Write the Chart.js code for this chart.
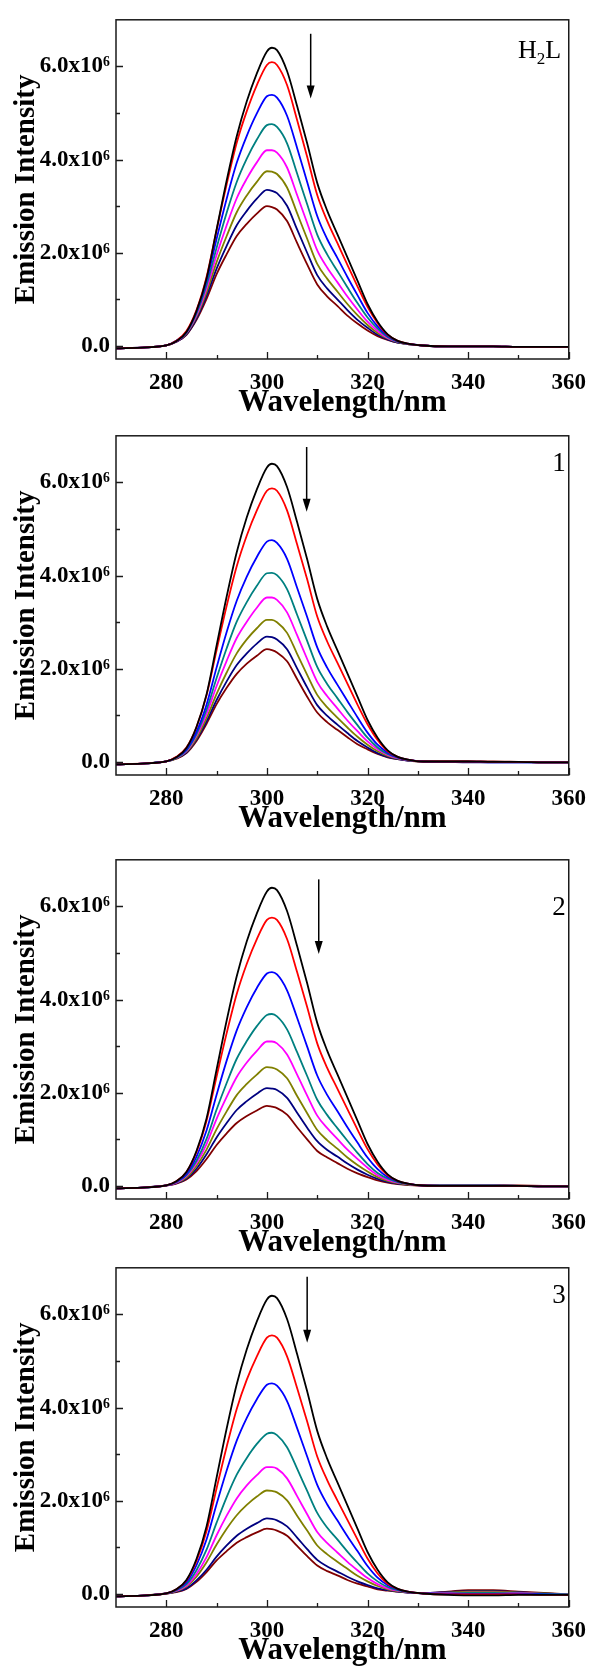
<!DOCTYPE html>
<html><head><meta charset="utf-8">
<script src="https://cdn.jsdelivr.net/npm/chart.js@4.4.1/dist/chart.umd.min.js"></script>
<style>
html,body{margin:0;padding:0;background:#fff;}
body{width:596px;height:1666px;position:relative;overflow:hidden;}
.panel{position:absolute;left:0;width:596px;height:418px;}
</style></head><body>
<div class="panel" style="top:0px"><canvas id="c0" width="596" height="418"></canvas></div>
<div class="panel" style="top:416px"><canvas id="c1" width="596" height="418"></canvas></div>
<div class="panel" style="top:840px"><canvas id="c2" width="596" height="418"></canvas></div>
<div class="panel" style="top:1248px"><canvas id="c3" width="596" height="418"></canvas></div>
<script>
// ---- shared axes ----
const wavelengths = [270,276,280,282,284,286,288,290,292,294,296,298,300,301,302,304,306,308,310,312,314,316,318,320,322,324,326,328,331,336,340,345,350,355,360];
const seriesColors = ['#000000','#ff0000','#0000ff','#008080','#ff00ff','#808000','#000080','#800000'];
const xTickValues = [280,300,320,340,360];
const xTickLabels = ['280','300','320','340','360'];
const xMinorTicks = [290,310,330,350];
const yTickValues = [0,2,4,6];
const yTickLabels = ['0.0','2.0x10\u2076','4.0x10\u2076','6.0x10\u2076'];
const yMinorTicks = [1,3,5];
const panelLabels = ['H2L','1','2','3'];
// arrow per panel: [wavelength, top value, tip value] (values in 10^6)
const arrowH2L = [308.7,6.70,5.31];
const arrow1 = [307.9,6.76,5.37];
const arrow2 = [310.3,6.58,4.98];
const arrow3 = [308.0,6.81,5.39];
// label baseline offset from plot top (px)
const labelDrop = [38,35,55,35];

// ---- panel H2L (values in 10^6) ----
const h2l_0 = [-0.05,-0.03,0.01,0.10,0.30,0.75,1.45,2.50,3.55,4.50,5.25,5.85,6.32,6.40,6.35,5.90,5.15,4.35,3.50,2.90,2.40,1.90,1.40,0.90,0.52,0.25,0.11,0.05,0.01,-0.01,-0.01,-0.01,-0.02,-0.02,-0.02];
const h2l_1 = [-0.05,-0.03,0.01,0.11,0.32,0.77,1.48,2.49,3.47,4.36,5.04,5.60,6.03,6.09,6.03,5.60,4.85,4.06,3.24,2.68,2.21,1.74,1.28,0.84,0.49,0.24,0.11,0.05,0.01,-0.01,-0.01,-0.01,-0.02,-0.02,-0.02];
const h2l_2 = [-0.05,-0.03,0.01,0.11,0.30,0.74,1.40,2.30,3.16,3.93,4.51,4.99,5.36,5.39,5.33,4.94,4.25,3.52,2.79,2.29,1.89,1.48,1.09,0.71,0.42,0.22,0.10,0.05,0.01,-0.01,-0.01,-0.01,-0.02,-0.02,-0.02];
const h2l_3 = [-0.05,-0.03,0.01,0.11,0.29,0.70,1.31,2.11,2.86,3.52,4.02,4.43,4.74,4.76,4.70,4.35,3.70,3.04,2.39,1.96,1.61,1.26,0.92,0.61,0.37,0.19,0.09,0.04,0.01,-0.01,-0.01,-0.01,-0.02,-0.02,-0.02];
const h2l_4 = [-0.05,-0.03,0.01,0.10,0.28,0.66,1.23,1.95,2.59,3.17,3.59,3.94,4.20,4.20,4.15,3.83,3.24,2.64,2.05,1.68,1.37,1.06,0.78,0.52,0.32,0.17,0.09,0.04,0.01,-0.01,-0.01,-0.01,-0.02,-0.02,-0.02];
const h2l_5 = [-0.05,-0.03,0.01,0.10,0.27,0.63,1.15,1.80,2.36,2.87,3.23,3.52,3.75,3.74,3.69,3.40,2.85,2.30,1.76,1.44,1.17,0.90,0.66,0.45,0.28,0.16,0.08,0.04,0.01,-0.01,-0.01,-0.01,-0.02,-0.02,-0.02];
const h2l_6 = [-0.05,-0.03,0.01,0.09,0.25,0.59,1.08,1.66,2.15,2.59,2.90,3.16,3.35,3.33,3.28,3.01,2.50,2.00,1.52,1.23,1.00,0.77,0.56,0.39,0.24,0.14,0.07,0.04,0.01,-0.01,-0.01,-0.01,-0.02,-0.02,-0.02];
const h2l_7 = [-0.05,-0.03,0.01,0.09,0.24,0.56,1.01,1.54,1.97,2.36,2.62,2.84,3.00,2.98,2.93,2.68,2.21,1.75,1.32,1.06,0.86,0.65,0.48,0.33,0.21,0.13,0.07,0.04,0.01,-0.01,-0.01,-0.01,-0.02,-0.02,-0.02];

// ---- panel 1 ----
const p1_0 = [-0.05,-0.03,0.01,0.10,0.30,0.75,1.45,2.50,3.55,4.50,5.25,5.85,6.32,6.40,6.35,5.90,5.15,4.35,3.50,2.90,2.40,1.90,1.40,0.90,0.52,0.25,0.11,0.05,0.01,0.01,0.01,0.00,0.00,-0.01,-0.01];
const p1_1 = [-0.05,-0.03,0.01,0.11,0.31,0.75,1.43,2.40,3.35,4.20,4.86,5.40,5.82,5.87,5.82,5.40,4.67,3.92,3.12,2.58,2.13,1.68,1.23,0.81,0.47,0.23,0.11,0.05,0.01,0.01,0.01,0.00,0.00,-0.01,-0.01];
const p1_2 = [-0.05,-0.03,0.01,0.10,0.27,0.65,1.23,2.03,2.79,3.46,3.98,4.40,4.73,4.76,4.70,4.36,3.74,3.11,2.46,2.02,1.66,1.31,0.96,0.63,0.37,0.20,0.10,0.05,0.01,0.00,0.00,-0.01,-0.01,-0.01,-0.01];
const p1_3 = [-0.05,-0.03,0.01,0.09,0.25,0.60,1.12,1.80,2.44,3.01,3.43,3.78,4.05,4.06,4.01,3.71,3.16,2.60,2.04,1.67,1.37,1.07,0.79,0.52,0.31,0.17,0.09,0.04,0.01,0.01,0.01,0.00,0.00,-0.01,-0.01];
const p1_4 = [-0.05,-0.03,0.01,0.09,0.23,0.56,1.03,1.63,2.17,2.66,3.01,3.31,3.53,3.53,3.48,3.21,2.72,2.21,1.72,1.41,1.15,0.89,0.66,0.44,0.27,0.15,0.08,0.04,0.01,0.01,0.01,0.00,0.00,-0.01,-0.01];
const p1_5 = [-0.05,-0.03,0.01,0.08,0.22,0.51,0.94,1.46,1.92,2.33,2.63,2.87,3.05,3.05,3.00,2.77,2.32,1.87,1.44,1.17,0.95,0.74,0.54,0.37,0.23,0.13,0.07,0.04,0.01,0.01,0.01,0.00,0.00,-0.01,-0.01];
const p1_6 = [-0.05,-0.03,0.01,0.08,0.20,0.48,0.87,1.33,1.73,2.08,2.33,2.54,2.69,2.68,2.63,2.42,2.01,1.60,1.22,0.99,0.80,0.62,0.45,0.31,0.19,0.11,0.06,0.03,0.01,0.00,-0.01,-0.01,-0.01,-0.01,-0.01];
const p1_7 = [-0.05,-0.03,0.01,0.07,0.19,0.45,0.82,1.24,1.59,1.89,2.11,2.28,2.42,2.40,2.35,2.16,1.78,1.40,1.06,0.85,0.69,0.53,0.38,0.27,0.17,0.10,0.06,0.03,0.01,0.01,0.01,0.01,0.00,-0.01,-0.01];

// ---- panel 2 ----
const p2_0 = [-0.05,-0.03,0.01,0.10,0.30,0.75,1.45,2.50,3.55,4.50,5.25,5.85,6.32,6.40,6.35,5.90,5.15,4.35,3.50,2.90,2.40,1.90,1.40,0.90,0.52,0.25,0.11,0.05,0.01,0.00,0.00,0.00,0.00,-0.01,-0.01];
const p2_1 = [-0.05,-0.03,0.01,0.10,0.30,0.73,1.40,2.35,3.28,4.12,4.77,5.30,5.71,5.76,5.71,5.30,4.59,3.84,3.06,2.53,2.09,1.65,1.21,0.79,0.46,0.23,0.11,0.05,0.01,0.00,0.00,0.00,0.00,-0.01,-0.01];
const p2_2 = [-0.05,-0.03,0.01,0.09,0.26,0.63,1.19,1.96,2.69,3.34,3.84,4.25,4.56,4.59,4.54,4.20,3.61,2.99,2.37,1.95,1.61,1.26,0.93,0.61,0.36,0.19,0.10,0.05,0.01,0.00,0.00,0.00,0.00,-0.01,-0.01];
const p2_3 = [-0.05,-0.03,0.01,0.08,0.23,0.54,1.01,1.64,2.21,2.73,3.11,3.43,3.67,3.69,3.64,3.36,2.87,2.36,1.85,1.52,1.24,0.97,0.71,0.47,0.28,0.16,0.08,0.04,0.01,0.01,0.01,0.01,0.00,-0.01,-0.01];
const p2_4 = [-0.05,-0.03,0.01,0.07,0.21,0.49,0.90,1.44,1.91,2.34,2.65,2.90,3.10,3.10,3.06,2.82,2.39,1.94,1.51,1.24,1.01,0.78,0.58,0.39,0.23,0.13,0.07,0.04,0.01,0.01,0.01,0.01,0.00,-0.01,-0.01];
const p2_5 = [-0.05,-0.03,0.01,0.07,0.18,0.43,0.78,1.22,1.60,1.95,2.19,2.39,2.55,2.54,2.50,2.31,1.93,1.56,1.20,0.98,0.80,0.61,0.45,0.31,0.19,0.11,0.06,0.03,0.01,0.01,0.01,0.01,0.00,-0.01,-0.01];
const p2_6 = [-0.05,-0.03,0.01,0.06,0.16,0.37,0.68,1.04,1.35,1.63,1.82,1.98,2.10,2.09,2.06,1.89,1.57,1.25,0.96,0.77,0.63,0.48,0.35,0.24,0.15,0.09,0.05,0.03,0.01,0.01,0.01,0.01,0.00,-0.01,-0.01];
const p2_7 = [-0.05,-0.03,0.01,0.05,0.14,0.32,0.58,0.88,1.13,1.35,1.50,1.62,1.72,1.70,1.67,1.53,1.26,1.00,0.75,0.61,0.49,0.37,0.27,0.19,0.12,0.07,0.04,0.02,0.01,0.02,0.02,0.02,0.01,0.00,-0.01];

// ---- panel 3 ----
const p3_0 = [-0.05,-0.03,0.01,0.10,0.30,0.75,1.45,2.50,3.55,4.50,5.25,5.85,6.32,6.40,6.35,5.90,5.15,4.35,3.50,2.90,2.40,1.90,1.40,0.90,0.52,0.25,0.11,0.05,0.01,-0.02,-0.03,-0.03,-0.02,-0.02,-0.02];
const p3_1 = [-0.05,-0.03,0.01,0.10,0.29,0.71,1.35,2.27,3.16,3.97,4.60,5.10,5.50,5.55,5.50,5.10,4.42,3.70,2.95,2.44,2.01,1.59,1.17,0.76,0.44,0.22,0.11,0.05,0.01,-0.01,-0.01,-0.01,-0.01,-0.02,-0.02];
const p3_2 = [-0.05,-0.03,0.01,0.09,0.25,0.62,1.17,1.93,2.65,3.29,3.78,4.18,4.49,4.52,4.47,4.14,3.56,2.95,2.34,1.92,1.58,1.24,0.92,0.60,0.35,0.19,0.10,0.05,0.01,0.00,0.00,0.00,0.00,-0.01,-0.02];
const p3_3 = [-0.05,-0.03,0.01,0.08,0.21,0.51,0.95,1.53,2.08,2.56,2.92,3.22,3.44,3.46,3.41,3.15,2.69,2.21,1.74,1.42,1.17,0.91,0.67,0.44,0.27,0.15,0.08,0.04,0.01,0.01,0.02,0.02,0.01,0.00,-0.01];
const p3_4 = [-0.05,-0.03,0.01,0.07,0.18,0.43,0.79,1.26,1.68,2.05,2.33,2.55,2.72,2.72,2.69,2.48,2.10,1.71,1.33,1.09,0.89,0.69,0.51,0.34,0.21,0.12,0.07,0.04,0.02,0.02,0.03,0.03,0.02,0.00,-0.01];
const p3_5 = [-0.05,-0.03,0.01,0.06,0.16,0.37,0.68,1.06,1.40,1.69,1.91,2.09,2.22,2.21,2.18,2.01,1.68,1.36,1.04,0.85,0.69,0.54,0.39,0.27,0.17,0.10,0.06,0.04,0.02,0.03,0.05,0.05,0.03,0.01,-0.01];
const p3_6 = [-0.05,-0.03,0.01,0.05,0.12,0.29,0.52,0.80,1.04,1.25,1.40,1.52,1.62,1.61,1.58,1.45,1.21,0.96,0.73,0.59,0.48,0.37,0.27,0.19,0.12,0.08,0.05,0.03,0.02,0.04,0.06,0.06,0.04,0.01,-0.01];
const p3_7 = [-0.05,-0.03,0.01,0.04,0.11,0.26,0.47,0.72,0.92,1.10,1.22,1.32,1.40,1.39,1.36,1.25,1.03,0.81,0.61,0.49,0.40,0.30,0.22,0.16,0.10,0.07,0.05,0.03,0.02,0.05,0.08,0.08,0.05,0.02,-0.01];

const panels = [
  {canvas:'c0', label:panelLabels[0], drop:labelDrop[0], arrow:arrowH2L, series:[h2l_0,h2l_1,h2l_2,h2l_3,h2l_4,h2l_5,h2l_6,h2l_7]},
  {canvas:'c1', label:panelLabels[1], drop:labelDrop[1], arrow:arrow1, series:[p1_0,p1_1,p1_2,p1_3,p1_4,p1_5,p1_6,p1_7]},
  {canvas:'c2', label:panelLabels[2], drop:labelDrop[2], arrow:arrow2, series:[p2_0,p2_1,p2_2,p2_3,p2_4,p2_5,p2_6,p2_7]},
  {canvas:'c3', label:panelLabels[3], drop:labelDrop[3], arrow:arrow3, series:[p3_0,p3_1,p3_2,p3_3,p3_4,p3_5,p3_6,p3_7]}
];

const SERIF = "'Liberation Serif','Times New Roman',serif";
const CANVAS_H = 418, PLOT_TOP = 11, PLOT_H = 348, Y_AXIS_W = 116, RIGHT_PAD = 20;

const decor = {
  id:'decor',
  afterDatasetsDraw(chart, args, opts){
    const ctx = chart.ctx, a = chart.chartArea, xs = chart.scales.x, ys = chart.scales.y;
    ctx.save();
    ctx.strokeStyle = '#1a1a1a';
    ctx.lineWidth = 1.5;
    ctx.strokeRect(a.left, a.top, a.right - a.left, a.bottom - a.top);
    ctx.lineWidth = 1.3;
    ctx.beginPath();
    xTickValues.forEach(v => { const p = Math.round(xs.getPixelForValue(v)) + 0.5; ctx.moveTo(p, a.bottom); ctx.lineTo(p, a.bottom - 7); });
    xMinorTicks.forEach(v => { const p = Math.round(xs.getPixelForValue(v)) + 0.5; ctx.moveTo(p, a.bottom); ctx.lineTo(p, a.bottom - 4); });
    yTickValues.forEach(v => { const p = Math.round(ys.getPixelForValue(v)) + 0.5; ctx.moveTo(a.left, p); ctx.lineTo(a.left + 7, p); });
    yMinorTicks.forEach(v => { const p = Math.round(ys.getPixelForValue(v)) + 0.5; ctx.moveTo(a.left, p); ctx.lineTo(a.left + 4, p); });
    ctx.stroke();
    // arrow
    const ar = opts.arrow;
    const ax = xs.getPixelForValue(ar[0]), ay1 = ys.getPixelForValue(ar[1]), ay2 = ys.getPixelForValue(ar[2]);
    ctx.strokeStyle = '#000'; ctx.fillStyle = '#000'; ctx.lineWidth = 1.5;
    ctx.beginPath(); ctx.moveTo(ax, ay1); ctx.lineTo(ax, ay2 - 8); ctx.stroke();
    ctx.beginPath(); ctx.moveTo(ax - 4, ay2 - 13); ctx.lineTo(ax + 4, ay2 - 13); ctx.lineTo(ax, ay2); ctx.closePath(); ctx.fill();
    // panel label
    ctx.fillStyle = '#000';
    ctx.textBaseline = 'alphabetic';
    if (opts.label === 'H2L') {
      let x0 = a.left + 402, y0 = a.top + opts.drop;
      ctx.font = '26px ' + SERIF; ctx.textAlign = 'left';
      ctx.fillText('H', x0, y0); x0 += ctx.measureText('H').width;
      ctx.font = '17px ' + SERIF;
      ctx.fillText('2', x0, y0 + 6); x0 += ctx.measureText('2').width;
      ctx.font = '26px ' + SERIF;
      ctx.fillText('L', x0, y0);
    } else {
      ctx.font = '27px ' + SERIF; ctx.textAlign = 'center';
      ctx.fillText(opts.label, a.left + 443, a.top + opts.drop);
    }
    ctx.restore();
  }
};

panels.forEach(pn => {
  new Chart(document.getElementById(pn.canvas), {
    type:'line',
    data:{ datasets: pn.series.map((vals, i) => ({
      data: wavelengths.map((w, j) => ({x:w, y:vals[j]})),
      borderColor: seriesColors[i], borderWidth: 1.8, pointRadius: 0,
      cubicInterpolationMode:'monotone', fill:false
    }))},
    options:{
      responsive:false, animation:false, events:[],
      layout:{ padding:{ top:PLOT_TOP, right:RIGHT_PAD, left:0, bottom:0 } },
      plugins:{ legend:{display:false}, tooltip:{enabled:false}, decor:{ arrow:pn.arrow, label:pn.label, drop:pn.drop } },
      scales:{
        x:{ type:'linear', min:270, max:360,
          grid:{display:false, drawTicks:false}, border:{display:false},
          afterBuildTicks: s => { s.ticks = xTickValues.map(v => ({value:v})); },
          afterFit: s => { s.height = CANVAS_H - PLOT_TOP - PLOT_H; },
          ticks:{ autoSkip:false, maxRotation:0, padding:10, color:'#000',
            font:{family:SERIF, size:23, weight:'bold'},
            callback: (v) => xTickLabels[xTickValues.indexOf(v)] },
          title:{ display:true, text:'Wavelength/nm', color:'#000',
            font:{family:SERIF, size:31, weight:'bold', lineHeight:1}, padding:{top:0,bottom:0} }
        },
        y:{ type:'linear', min:-0.28, max:7.0,
          grid:{display:false, drawTicks:false}, border:{display:false},
          afterBuildTicks: s => { s.ticks = yTickValues.map(v => ({value:v})); },
          afterFit: s => { s.width = Y_AXIS_W; },
          ticks:{ autoSkip:false, padding:6, color:'#000',
            font:{family:SERIF, size:23, weight:'bold'},
            callback: (v) => yTickLabels[yTickValues.indexOf(v)] },
          title:{ display:true, text:'Emission Intensity', color:'#000',
            font:{family:SERIF, size:29, weight:'bold', lineHeight:1}, padding:{top:12,bottom:0} }
        }
      }
    },
    plugins:[decor]
  });
});
</script>
</body></html>
